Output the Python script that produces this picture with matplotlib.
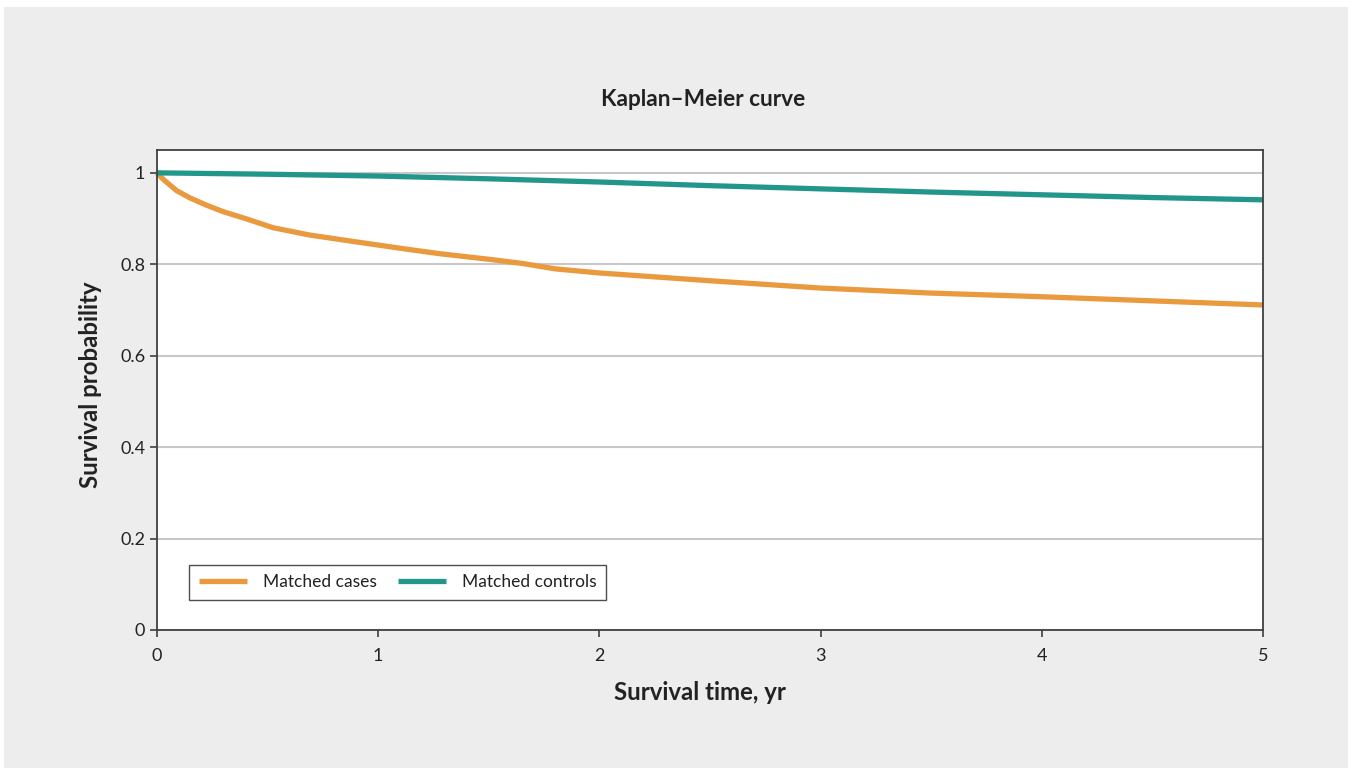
import matplotlib
matplotlib.use("Agg")
import matplotlib.pyplot as plt
from matplotlib.patches import Rectangle

plt.rcParams['font.family'] = ['Lato', 'DejaVu Sans']

# Data
time_cases = [0.0, 0.03, 0.089, 0.15, 0.22, 0.30, 0.40, 0.525, 0.69, 0.886, 1.13, 1.28, 1.5, 1.65, 1.8, 2.0, 2.5, 3.0, 3.5, 4.0, 4.5, 5.0]
surv_cases = [1.0, 0.985, 0.961, 0.945, 0.930, 0.915, 0.900, 0.880, 0.864, 0.850, 0.833, 0.823, 0.811, 0.802, 0.790, 0.781, 0.764, 0.748, 0.737, 0.729, 0.720, 0.711]
time_controls = [0.0, 0.5, 1.0, 1.5, 2.0, 2.5, 3.0, 3.5, 4.0, 4.5, 5.0]
surv_controls = [1.0, 0.997, 0.993, 0.987, 0.980, 0.972, 0.965, 0.958, 0.952, 0.946, 0.941]
x_ticks = [0, 1, 2, 3, 4, 5]
y_ticks = [0, 0.2, 0.4, 0.6, 0.8, 1.0]
y_tick_labels = ['0', '0.2', '0.4', '0.6', '0.8', '1']

W, H = 1356, 768
fig = plt.figure(figsize=(W / 100, H / 100), dpi=100, facecolor='white')
fig.patches.append(Rectangle((4 / W, 0), (1348 - 4) / W, (768 - 7) / H,
                             transform=fig.transFigure, facecolor='#EDEDED',
                             edgecolor='none', zorder=-10))

ax = fig.add_axes([157 / W, 1 - 630 / H, (1263 - 157) / W, (630 - 150) / H])
ax.set_zorder(5)
ax.set_facecolor('white')
ax.set_xlim(0, 5)
ax.set_ylim(0, 1.05)

ax.set_yticks(y_ticks)
ax.set_yticklabels(y_tick_labels)
ax.set_xticks(x_ticks)
ax.yaxis.grid(True, color='#C8C8C8', linewidth=1.5)
ax.set_axisbelow(True)
for s in ax.spines.values():
    s.set_color('#404040')
    s.set_linewidth(1.3)
ax.tick_params(axis='both', colors='#404040', labelcolor='#222222', labelsize=13,
               length=5, width=1.2, direction='out')
ax.tick_params(axis='x', pad=8)

ax.plot(time_cases, surv_cases, color='#EA9A3E', linewidth=3.8, label='Matched cases',
        solid_capstyle='butt', clip_on=False)
ax.plot(time_controls, surv_controls, color='#22968B', linewidth=3.8, label='Matched controls',
        solid_capstyle='butt', clip_on=False)

leg = ax.legend(loc='lower left', bbox_to_anchor=(0.029, 0.0625), ncol=2, fontsize=12.5,
                frameon=True, fancybox=False, edgecolor='#222222', borderaxespad=0,
                handlelength=2.8, columnspacing=1.2, handletextpad=0.9, borderpad=0.55)
leg.get_frame().set_linewidth(1.0)
for t in leg.get_texts():
    t.set_color('#222222')

fig.text(703 / W, 1 - 100 / H, 'Kaplan\u2013Meier curve', ha='center', va='center',
         fontsize=16.3, fontweight='bold', color='#222222')
fig.text(700 / W, 1 - 693 / H, 'Survival time, yr', ha='center', va='center',
         fontsize=17.3, fontweight='bold', color='#222222')
fig.text(90 / W, 1 - 385 / H, 'Survival probability', ha='center', va='center',
         rotation=90, fontsize=17.3, fontweight='bold', color='#222222')

fig.savefig('out.png', dpi=100, facecolor='white')
